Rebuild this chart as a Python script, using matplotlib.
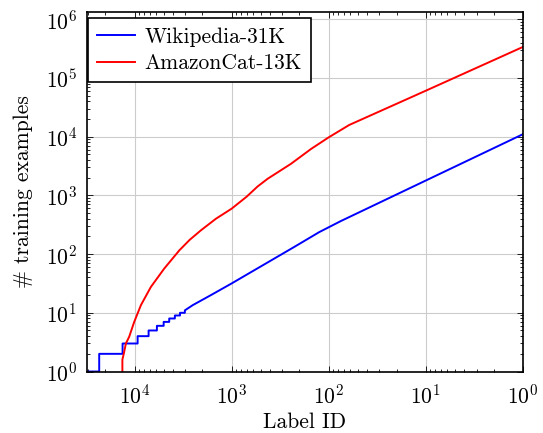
# Label frequency (long-tail) plot for Wikipedia-31K and AmazonCat-13K.
import numpy as np
import matplotlib
matplotlib.use("Agg")
import matplotlib.pyplot as plt
from matplotlib.ticker import LogLocator, FixedLocator, NullFormatter

FS = 15.5
plt.rcParams.update({
    "font.family": "cmr10",
    "mathtext.fontset": "cm",
    "axes.formatter.use_mathtext": True,
    "font.size": FS,
})

# rank (label id, sorted by frequency) vs number of training examples
wiki_rank = [30938, 23100, 23100, 13270, 13270, 9290, 9290, 7160, 7160, 5880, 5880,
             5010, 5010, 4390, 4390, 3840, 3840, 3400, 3400, 3030, 3030, 2513, 1634,
             1000, 585, 227, 125, 75, 1]
wiki_count = [1, 1, 2, 2, 3, 3, 4, 4, 5, 5, 6,
              6, 7, 7, 8, 8, 9, 9, 10, 10, 11, 13.5, 20,
              31.6, 53, 132, 237, 365, 11000]

amazon_rank = [13330, 13330, 12900, 12270, 11350, 10070, 8590, 6780, 4940, 3450, 2700,
               2070, 1450, 1000, 700, 540, 426, 245, 152, 100, 61.5, 9.8, 1]
amazon_count = [1, 1.6, 2, 3, 3.9, 7.0, 13.5, 27.6, 56.7, 116, 175,
                254, 400, 593, 950, 1416, 1914, 3440, 6170, 9730, 15800, 61500, 337000]

fig = plt.figure(figsize=(5.43, 4.33), dpi=100)
ax = fig.add_axes([0.160, 0.142, 0.803, 0.830])

ax.plot(wiki_rank, wiki_count, color="blue", lw=1.4, label="Wikipedia-31K")
ax.plot(amazon_rank, amazon_count, color="red", lw=1.4, label="AmazonCat-13K")

ax.set_xscale("log")
ax.set_yscale("log")
ax.set_xlim(30938, 1)
ax.set_ylim(1, 1.32e6)

ax.xaxis.set_major_locator(FixedLocator([1e4, 1e3, 1e2, 1e1, 1e0]))
ax.yaxis.set_major_locator(FixedLocator([1e0, 1e1, 1e2, 1e3, 1e4, 1e5, 1e6]))
for a in (ax.xaxis, ax.yaxis):
    a.set_minor_locator(LogLocator(base=10, subs=np.arange(2, 10), numticks=20))
    a.set_minor_formatter(NullFormatter())

ax.tick_params(which="both", direction="in", top=True, right=True, width=0.6)
ax.tick_params(which="major", length=4.5, labelsize=FS)
ax.tick_params(axis="x", which="major", pad=9)
ax.tick_params(axis="y", which="major", pad=7)
ax.tick_params(which="minor", length=2.5)
ax.grid(True, which="major", color="#cccccc", lw=0.8)
for s in ax.spines.values():
    s.set_linewidth(1.2)

ax.set_xlabel("Label ID", fontsize=FS, labelpad=3)
ax.set_ylabel("# training examples", fontsize=FS, labelpad=9)

leg = ax.legend(loc="upper left", bbox_to_anchor=(0.003, 0.983), borderaxespad=0,
                fancybox=False, edgecolor="black", framealpha=1, fontsize=FS,
                handlelength=1.75, borderpad=0.42, labelspacing=0.32, handletextpad=0.45)
leg.get_frame().set_linewidth(1.2)

fig.savefig("out.png", dpi=100)
